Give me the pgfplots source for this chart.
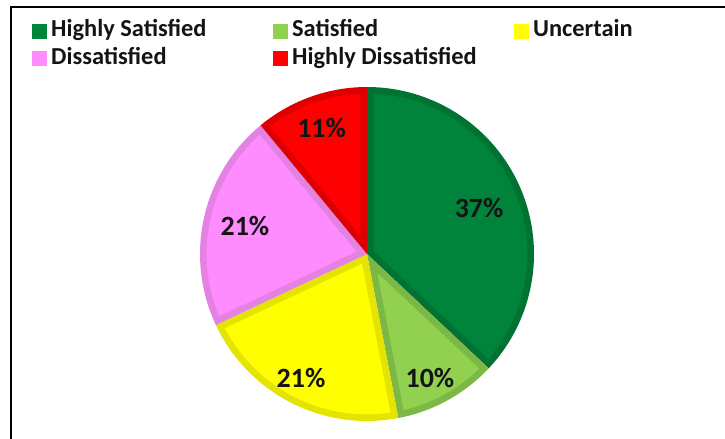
\documentclass[border=0pt]{standalone}
\usepackage{fontspec}
\setmainfont{Carlito}
\usepackage{pgfplots}
\pgfplotsset{compat=1.18}
\definecolor{hsF}{RGB}{0,132,60}
\definecolor{hsB}{RGB}{0,114,50}
\definecolor{sF}{RGB}{146,208,80}
\definecolor{sB}{RGB}{124,184,70}
\definecolor{uF}{RGB}{255,255,0}
\definecolor{uB}{RGB}{228,228,0}
\definecolor{dF}{RGB}{255,140,255}
\definecolor{dB}{RGB}{228,130,228}
\definecolor{hdF}{RGB}{255,0,0}
\definecolor{hdB}{RGB}{222,0,0}
\definecolor{txt}{RGB}{20,20,20}
\begin{document}
\begin{tikzpicture}
\useasboundingbox (0,0) rectangle (725bp,-439bp);
\clip (0,0) rectangle (725bp,-439bp);
\draw[line width=1.5bp] (11bp,-460bp) -- (11bp,-7bp) -- (760bp,-7bp);
% shares: Highly Satisfied 37, Satisfied 10, Uncertain 21, Dissatisfied 21, Highly Dissatisfied 11 (%)
\begin{axis}[
  at={(367bp,-254bp)}, anchor=center,
  scale only axis, width=334bp, height=334bp,
  xmin=-1, xmax=1, ymin=-1, ymax=1,
  hide axis, clip=false,
  legend columns=3,
  legend image code/.code={\fill[#1] (0bp,-10bp) rectangle (15bp,5bp);},
  legend style={at={(axis description cs:-0.503,1.2156)}, anchor=north west,
    draw=none, fill=none, inner sep=0pt, row sep=1bp,
    font=\fontsize{24.5}{28}\selectfont\bfseries, text=txt,
    nodes={inner sep=4bp},
    /tikz/every even column/.append style={column sep=18bp}},
  legend cell align=left,
]
\addlegendimage{fill=hsF, draw=none}
\addlegendentry{\makebox[200bp][l]{Highly Satisfied}}
\addlegendimage{fill=sF, draw=none}
\addlegendentry{\makebox[200bp][l]{Satisfied}}
\addlegendimage{fill=uF, draw=none}
\addlegendentry{\makebox[200bp][l]{Uncertain}}
\addlegendimage{fill=dF, draw=none}
\addlegendentry{\makebox[200bp][l]{Dissatisfied}}
\addlegendimage{fill=hdF, draw=none}
\addlegendentry{\makebox[200bp][l]{Highly Dissatisfied}}

% Highly Satisfied 37% : 90 -> -43.2
\addplot[draw=none, fill=hsB, domain=-43.2:90, samples=90, forget plot] ({cos(x)},{sin(x)}) -- (axis cs:0,0) -- cycle;
\addplot[draw=none, fill=hsF, domain=-40.81:87.61, samples=90, forget plot] ({0.96*cos(x)},{0.96*sin(x)}) -- (axis cs:{0.0436*cos(23.4)},{0.0436*sin(23.4)}) -- cycle;
% Satisfied 10% : -43.2 -> -79.2
\addplot[draw=none, fill=sB, domain=-79.2:-43.2, samples=30, forget plot] ({cos(x)},{sin(x)}) -- (axis cs:0,0) -- cycle;
\addplot[draw=none, fill=sF, domain=-76.81:-45.59, samples=30, forget plot] ({0.96*cos(x)},{0.96*sin(x)}) -- (axis cs:{0.1294*cos(-61.2)},{0.1294*sin(-61.2)}) -- cycle;
% Uncertain 21% : -79.2 -> -154.8
\addplot[draw=none, fill=uB, domain=-154.8:-79.2, samples=50, forget plot] ({cos(x)},{sin(x)}) -- (axis cs:0,0) -- cycle;
\addplot[draw=none, fill=uF, domain=-152.41:-81.59, samples=50, forget plot] ({0.96*cos(x)},{0.96*sin(x)}) -- (axis cs:{0.0653*cos(-117)},{0.0653*sin(-117)}) -- cycle;
% Dissatisfied 21% : -154.8 -> -230.4
\addplot[draw=none, fill=dB, domain=-230.4:-154.8, samples=50, forget plot] ({cos(x)},{sin(x)}) -- (axis cs:0,0) -- cycle;
\addplot[draw=none, fill=dF, domain=-228.01:-157.19, samples=50, forget plot] ({0.96*cos(x)},{0.96*sin(x)}) -- (axis cs:{0.0653*cos(-192.6)},{0.0653*sin(-192.6)}) -- cycle;
% Highly Dissatisfied 11% : -230.4 -> -270
\addplot[draw=none, fill=hdB, domain=-270:-230.4, samples=30, forget plot] ({cos(x)},{sin(x)}) -- (axis cs:0,0) -- cycle;
\addplot[draw=none, fill=hdF, domain=-267.61:-232.79, samples=30, forget plot] ({0.96*cos(x)},{0.96*sin(x)}) -- (axis cs:{0.1181*cos(-250.2)},{0.1181*sin(-250.2)}) -- cycle;

\begin{scope}[every node/.style={font=\fontsize{28}{30}\selectfont\bfseries, text=txt}]
\node at (axis cs:0.671,0.275) {37\%};
\node at (axis cs:0.377,-0.743) {10\%};
\node at (axis cs:-0.395,-0.743) {21\%};
\node at (axis cs:-0.731,0.168) {21\%};
\node at (axis cs:-0.272,0.754) {11\%};
\end{scope}
\end{axis}
\end{tikzpicture}
\end{document}
